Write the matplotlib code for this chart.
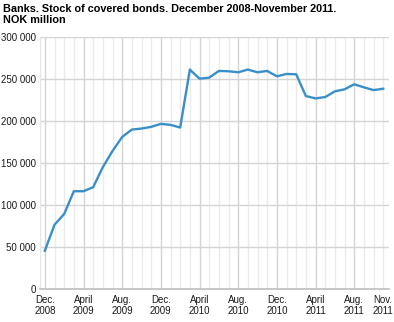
import numpy as np
import matplotlib.pyplot as plt

plt.rcParams['font.family'] = ['Liberation Sans', 'DejaVu Sans']

# Stock of covered bonds, NOK million, monthly Dec 2008 - Nov 2011
values = [45500, 76500, 89300, 116400, 116400, 121200, 145100, 164300, 181000,
          189800, 191000, 193000, 196600, 195400, 192200, 261200, 250400, 251600,
          259600, 259200, 258000, 261200, 258000, 259600, 253200, 256000, 255600,
          229700, 226900, 228500, 235300, 237700, 243700, 240100, 236800, 238400]
tick_pos = [0, 4, 8, 12, 16, 20, 24, 28, 32, 35]
tick_labels = ["Dec.\n2008", "April\n2009", "Aug.\n2009", "Dec.\n2009", "April\n2010",
               "Aug.\n2010", "Dec.\n2010", "April\n2011", "Aug.\n2011", "Nov.\n2011"]
y_ticks = [0, 50000, 100000, 150000, 200000, 250000, 300000]

x = np.arange(len(values))

fig = plt.figure(figsize=(3.94, 3.22), dpi=100)
ax = fig.add_axes([40/394, 1-289/322, 349/394, 252/322])

# vertical grid: light for each month, a bit darker every fourth month
for i in x:
    c = '#d4d4d4' if i % 4 == 0 else '#ebebeb'
    ax.axvline(i, color=c, lw=1, zorder=0)
for v in y_ticks[1:]:
    ax.axhline(v, color='#d4d4d4', lw=1, zorder=0)
ax.axvline(-0.5, color='#e6e6e6', lw=1, zorder=0)

ax.plot(x, values, color='#3a8fc8', lw=1.7, zorder=3)

ax.set_xlim(-0.5, 35.6)
ax.set_ylim(0, 300000)
ax.set_yticks(y_ticks)
ax.set_yticklabels([f"{v:,}".replace(",", " ") for v in y_ticks])
ax.set_xticks(tick_pos)
ax.set_xticklabels(tick_labels)
ax.tick_params(length=0, labelsize=7, colors='#1a1a1a')
ax.tick_params(axis='y', pad=3)
ax.tick_params(axis='x', pad=4)
for s in ['top', 'right', 'left']:
    ax.spines[s].set_visible(False)
ax.spines['bottom'].set_color('#bdbdbd')
ax.spines['bottom'].set_linewidth(1.2)

fig.text(3/394, 1-4/322, "Banks. Stock of covered bonds. December 2008-November 2011.\nNOK million",
         fontsize=7.8, fontweight='bold', va='top', ha='left', linespacing=1.15)

fig.savefig('out.png', dpi=100)
